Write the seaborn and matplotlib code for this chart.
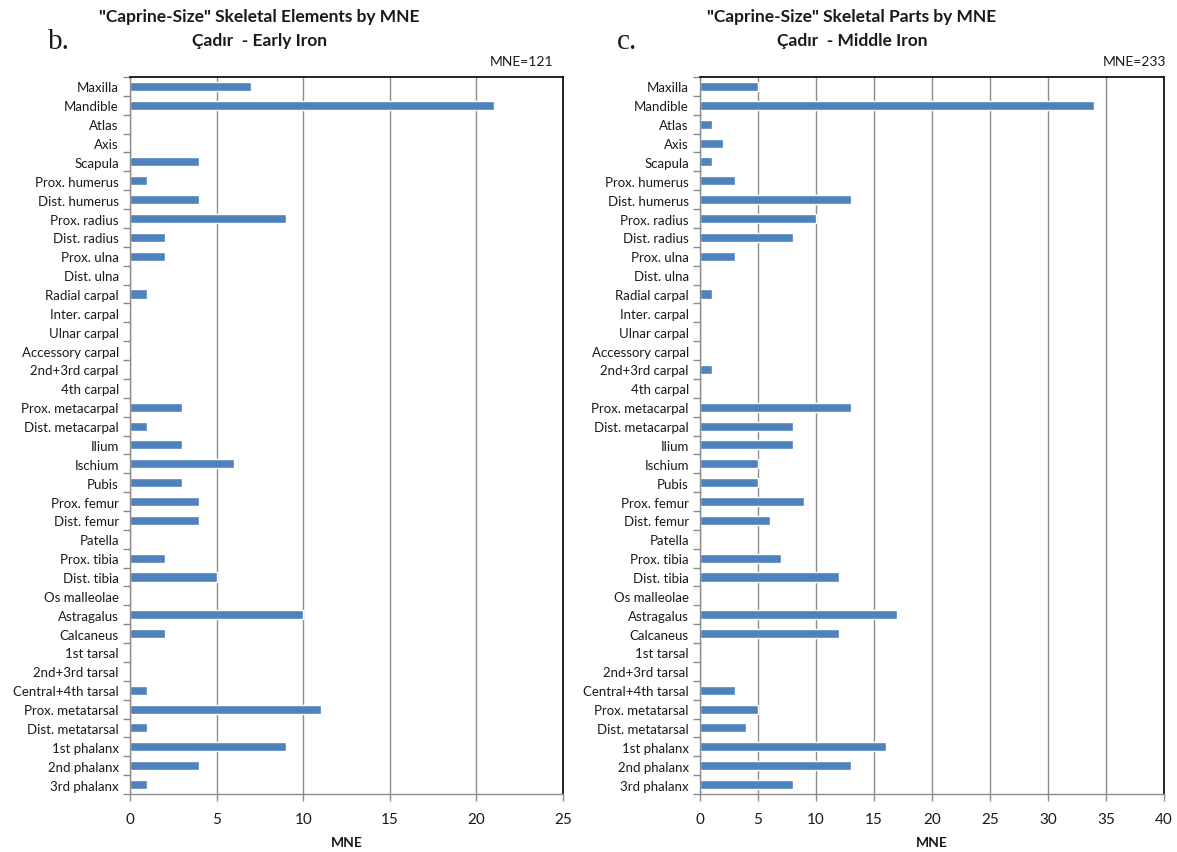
import numpy as np
import pandas as pd
import matplotlib
matplotlib.use("Agg")
import matplotlib.pyplot as plt
from matplotlib.ticker import FixedLocator, MultipleLocator
import seaborn as sns

elements = [
    "Maxilla", "Mandible", "Atlas", "Axis", "Scapula", "Prox. humerus",
    "Dist. humerus", "Prox. radius", "Dist. radius", "Prox. ulna", "Dist. ulna",
    "Radial carpal", "Inter. carpal", "Ulnar carpal", "Accessory carpal",
    "2nd+3rd carpal", "4th carpal", "Prox. metacarpal", "Dist. metacarpal",
    "Ilium", "Ischium", "Pubis", "Prox. femur", "Dist. femur", "Patella",
    "Prox. tibia", "Dist. tibia", "Os malleolae", "Astragalus", "Calcaneus",
    "1st tarsal", "2nd+3rd tarsal", "Central+4th tarsal", "Prox. metatarsal",
    "Dist. metatarsal", "1st phalanx", "2nd phalanx", "3rd phalanx",
]

early_iron = [7, 21, 0, 0, 4, 1, 4, 9, 2, 2, 0, 1, 0, 0, 0, 0, 0, 3, 1,
              3, 6, 3, 4, 4, 0, 2, 5, 0, 10, 2, 0, 0, 1, 11, 1, 9, 4, 1]
middle_iron = [5, 34, 1, 2, 1, 3, 13, 10, 8, 3, 0, 1, 0, 0, 0, 1, 0, 13, 8,
               8, 5, 5, 9, 6, 0, 7, 12, 0, 17, 12, 0, 0, 3, 5, 4, 16, 13, 8]

panels = [
    {"letter": "b.", "title": "\"Caprine-Size\" Skeletal Elements by MNE\nÇadır  - Early Iron",
     "values": early_iron, "xmax": 25},
    {"letter": "c.", "title": "\"Caprine-Size\" Skeletal Parts by MNE\nÇadır  - Middle Iron",
     "values": middle_iron, "xmax": 40},
]

sns.set_theme(style="white")
plt.rcParams["font.family"] = ["Lato", "DejaVu Sans"]

BAR = "#4f81bd"
GRID = "#8c8c8c"
INK = "#1a1a1a"
W, H = 1177, 853
fig = plt.figure(figsize=(W / 100, H / 100), dpi=100)

# axes rectangles in pixels: left, bottom, right, top
rects = [(130, 795, 563, 78), (700, 795, 1164, 78)]
title_x = [259, 852]
letter_x = [48, 617]
mne_x = [553, 1166]

for i, (p, r) in enumerate(zip(panels, rects)):
    l, b, rr, t = r
    ax = fig.add_axes([l / W, 1 - b / H, (rr - l) / W, (b - t) / H])
    df = pd.DataFrame({"element": elements, "MNE": p["values"]})
    sns.barplot(data=df, y="element", x="MNE", orient="h", color=BAR,
                saturation=1, width=0.48, ax=ax, order=elements)
    ax.set_xlim(0, p["xmax"])
    ax.set_ylim(len(elements) - 0.5, -0.5)
    ax.xaxis.set_major_locator(MultipleLocator(5))
    ax.grid(axis="x", color=GRID, linewidth=1.0)
    ax.set_axisbelow(True)
    for side in ("top", "right"):
        ax.spines[side].set_color("black")
        ax.spines[side].set_linewidth(1.2)
    for side in ("left", "bottom"):
        ax.spines[side].set_color(GRID)
        ax.spines[side].set_linewidth(1.0)
    ax.yaxis.set_minor_locator(FixedLocator(np.arange(-0.5, len(elements), 1.0)))
    ax.tick_params(axis="y", which="major", length=0, pad=8, labelsize=9.5, colors=INK)
    ax.tick_params(axis="y", which="minor", length=5, width=1, color=GRID, left=True)
    ax.tick_params(axis="x", which="major", length=5, width=1, color=GRID,
                   bottom=True, labelsize=11, pad=8, labelcolor=INK)
    ax.set_ylabel("")
    ax.set_xlabel("")
    x_mid = (l + rr) / 2
    fig.text(x_mid / W, 1 - 843 / H, "MNE", ha="center", va="center",
             fontsize=10, fontweight="bold", color=INK)

    fig.text(title_x[i] / W, 1 - 29 / H, p["title"], ha="center", va="center",
             fontsize=12.5, fontweight="bold", linespacing=1.55, color=INK)
    fig.text(letter_x[i] / W, 1 - 42 / H, p["letter"], ha="left", va="center",
             fontsize=21, family="Liberation Serif", color=INK)
    fig.text(mne_x[i] / W, 1 - 62 / H, "MNE=" + str(sum(p["values"])), ha="right",
             va="center", fontsize=10, color=INK)

fig.savefig("out.png", dpi=100, facecolor="white")
